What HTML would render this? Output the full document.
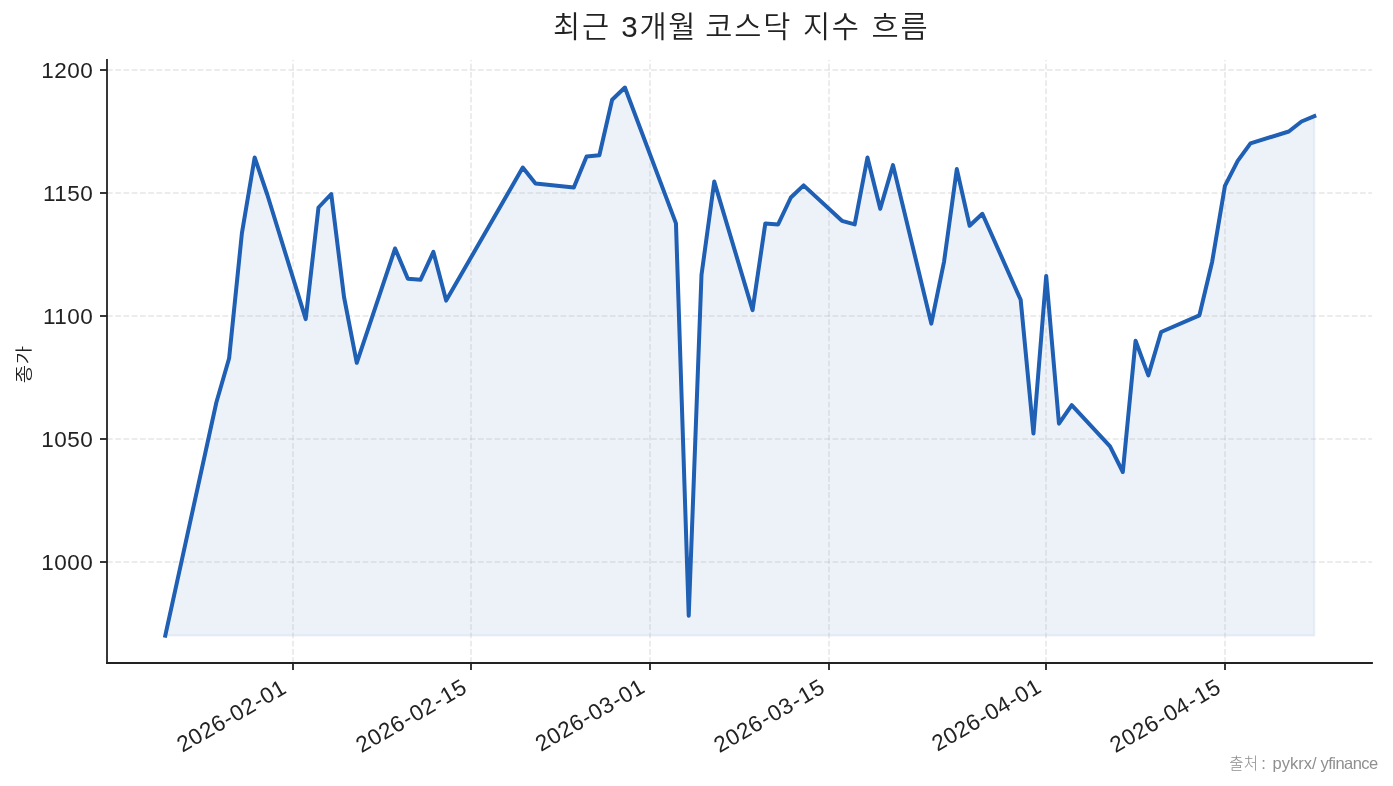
<!DOCTYPE html>
<html lang="ko"><head><meta charset="utf-8"><title>최근 3개월 코스닥 지수 흐름</title>
<style>html,body{margin:0;padding:0;background:#fff;overflow:hidden}svg{display:block}text{white-space:pre}</style></head><body>
<svg style="will-change:transform" width="1393" height="786" viewBox="0 0 1393 786">
<polygon points="165.28,635.60 216.35,402.50 229.12,358.30 241.88,233.40 254.65,157.50 267.42,195.00 305.72,319.10 318.48,207.50 331.25,194.00 344.02,297.00 356.78,362.80 395.09,248.50 407.85,278.70 420.62,279.70 433.39,251.90 446.15,300.60 522.76,167.50 535.52,183.40 573.82,187.40 586.59,156.40 599.36,155.20 612.12,99.70 624.89,87.50 675.96,223.40 688.73,615.80 701.49,275.00 714.26,181.60 752.56,310.10 765.33,223.40 778.10,224.40 790.86,197.50 803.63,185.40 841.93,220.80 854.70,224.40 867.46,157.50 880.23,208.70 893.00,165.10 931.30,323.60 944.07,261.60 956.83,169.10 969.60,225.80 982.37,213.80 1020.67,299.80 1033.44,433.60 1046.20,275.90 1058.97,423.70 1071.74,405.20 1110.04,446.40 1122.81,472.00 1135.57,340.80 1148.34,375.40 1161.11,332.00 1199.41,315.30 1212.17,261.70 1224.94,185.80 1237.71,160.90 1250.47,143.40 1288.78,131.50 1301.54,121.50 1314.31,116.20 1314.31,635.6 165.28,635.6" fill="#1f5fb4" fill-opacity="0.08" stroke="#1f5fb4" stroke-opacity="0.08" stroke-width="2" stroke-linejoin="miter"/>
<g stroke="#b0b0b0" stroke-opacity="0.3" stroke-width="1.6" stroke-dasharray="5.752 2.492" fill="none">
<path d="M293 663.0 V60.0"/>
<path d="M471 663.0 V60.0"/>
<path d="M650 663.0 V60.0"/>
<path d="M829 663.0 V60.0"/>
<path d="M1046 663.0 V60.0"/>
<path d="M1225 663.0 V60.0"/>
<path d="M107.0 562.00 H1372.0"/>
<path d="M107.0 439.00 H1372.0"/>
<path d="M107.0 316.00 H1372.0"/>
<path d="M107.0 193.00 H1372.0"/>
<path d="M107.0 70.00 H1372.0"/>
</g>
<polyline points="165.28,635.60 216.35,402.50 229.12,358.30 241.88,233.40 254.65,157.50 267.42,195.00 305.72,319.10 318.48,207.50 331.25,194.00 344.02,297.00 356.78,362.80 395.09,248.50 407.85,278.70 420.62,279.70 433.39,251.90 446.15,300.60 522.76,167.50 535.52,183.40 573.82,187.40 586.59,156.40 599.36,155.20 612.12,99.70 624.89,87.50 675.96,223.40 688.73,615.80 701.49,275.00 714.26,181.60 752.56,310.10 765.33,223.40 778.10,224.40 790.86,197.50 803.63,185.40 841.93,220.80 854.70,224.40 867.46,157.50 880.23,208.70 893.00,165.10 931.30,323.60 944.07,261.60 956.83,169.10 969.60,225.80 982.37,213.80 1020.67,299.80 1033.44,433.60 1046.20,275.90 1058.97,423.70 1071.74,405.20 1110.04,446.40 1122.81,472.00 1135.57,340.80 1148.34,375.40 1161.11,332.00 1199.41,315.30 1212.17,261.70 1224.94,185.80 1237.71,160.90 1250.47,143.40 1288.78,131.50 1301.54,121.50 1314.31,116.20" fill="none" stroke="#1f5fb4" stroke-width="4" stroke-linejoin="round" stroke-linecap="square"/>
<g stroke="#222222" stroke-width="1.8" fill="none" stroke-linecap="square">
<path d="M107.0 60.0 V663.0"/><path d="M107.0 663.0 H1372.0"/>
</g>
<g stroke="#222222" stroke-width="1.8" fill="none">
<path d="M293 663.0 v7"/>
<path d="M471 663.0 v7"/>
<path d="M650 663.0 v7"/>
<path d="M829 663.0 v7"/>
<path d="M1046 663.0 v7"/>
<path d="M1225 663.0 v7"/>
<path d="M107.0 562.00 h-7"/>
<path d="M107.0 439.00 h-7"/>
<path d="M107.0 316.00 h-7"/>
<path d="M107.0 193.00 h-7"/>
<path d="M107.0 70.00 h-7"/>
</g>
<g font-family="'Liberation Sans', 'Noto Sans CJK KR', sans-serif" font-size="22.5" fill="#222222" text-anchor="end" letter-spacing="0.5">
<text transform="translate(93.3 569.90)">1000</text>
<text transform="translate(93.3 446.90)">1050</text>
<text transform="translate(93.3 323.90)">1100</text>
<text transform="translate(93.3 200.90)">1150</text>
<text transform="translate(93.3 77.90)">1200</text>
</g>
<g font-family="'Liberation Sans', 'Noto Sans CJK KR', sans-serif" font-size="22.5" fill="#222222" text-anchor="end" letter-spacing="0.5">
<text transform="translate(288.00 692.00) rotate(-30)" x="0" y="0">2026<tspan dx="0.4">-</tspan><tspan dx="0.4">02</tspan><tspan dx="0.4">-</tspan><tspan dx="0.4">01</tspan></text>
<text transform="translate(468.40 691.60) rotate(-30)" x="0" y="0">2026<tspan dx="0.8">-</tspan><tspan dx="0.8">02</tspan><tspan dx="0.8">-</tspan><tspan dx="0.8">15</tspan></text>
<text transform="translate(646.47 691.15) rotate(-30)" x="0" y="0">2026<tspan dx="0.4">-</tspan><tspan dx="0.4">03</tspan><tspan dx="0.4">-</tspan><tspan dx="0.4">01</tspan></text>
<text transform="translate(826.40 691.60) rotate(-30)" x="0" y="0">2026<tspan dx="0.8">-</tspan><tspan dx="0.8">03</tspan><tspan dx="0.8">-</tspan><tspan dx="0.8">15</tspan></text>
<text transform="translate(1042.91 690.90) rotate(-30)" x="0" y="0">2026<tspan dx="0.4">-</tspan><tspan dx="0.4">04</tspan><tspan dx="0.4">-</tspan><tspan dx="0.4">01</tspan></text>
<text transform="translate(1222.40 691.60) rotate(-30)" x="0" y="0">2026<tspan dx="0.8">-</tspan><tspan dx="0.8">04</tspan><tspan dx="0.8">-</tspan><tspan dx="0.8">15</tspan></text>
</g>
<text y="36.9" font-family="'Liberation Sans', 'Noto Sans CJK KR', sans-serif" font-size="29.5" font-weight="350" letter-spacing="1.8" fill="#222222"><tspan x="553.00">최근 </tspan><tspan x="621.20">3개월 </tspan><tspan x="705.30">코스닥 </tspan><tspan x="802.90">지수 </tspan><tspan x="871.50">흐름</tspan></text>
<text transform="translate(30 364.2) rotate(-90) scale(1 0.85)" font-family="'Liberation Sans', 'Noto Sans CJK KR', sans-serif" font-size="20" font-weight="350" letter-spacing="0.6" fill="#222222" text-anchor="middle">종가</text>
<text y="768.7" fill="#8f8f8f" font-weight="300"><tspan x="1229.2" font-family="'Liberation Sans', 'Noto Sans CJK KR', sans-serif" font-size="15.5" letter-spacing="0.4">출처</tspan><tspan x="1261.2" font-family="'Liberation Sans', 'Noto Sans CJK KR', sans-serif" font-size="16.5">: </tspan><tspan x="1272.6" font-family="'Liberation Sans', 'Noto Sans CJK KR', sans-serif" font-size="16.5">pykrx/</tspan><tspan x="1320.6" font-family="'Liberation Sans', 'Noto Sans CJK KR', sans-serif" font-size="16.5" letter-spacing="-0.55">yfinance</tspan></text>
</svg></body></html>
